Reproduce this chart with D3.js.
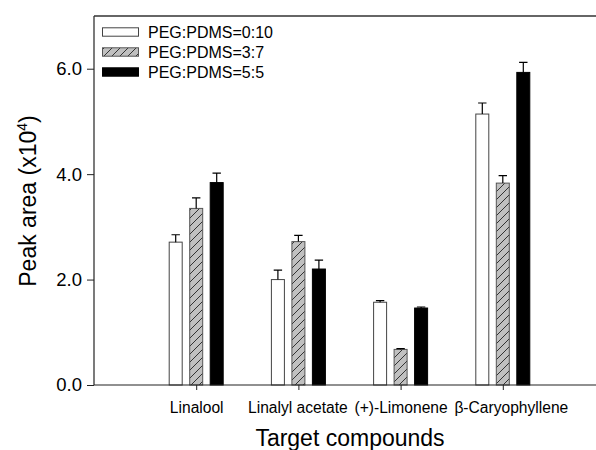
<!DOCTYPE html>
<html>
<head>
<meta charset="utf-8">
<script src="https://cdn.jsdelivr.net/npm/d3@7"></script>
<style>
  html, body { margin: 0; padding: 0; background: #fff; }
  svg { display: block; font-family: "Liberation Sans", Arial, sans-serif; }
</style>
</head>
<body>
<svg id="chart" width="596" height="450"></svg>
<script>
const categories = ["Linalool", "Linalyl acetate", "(+)-Limonene", "\u03B2-Caryophyllene"];
const seriesNames = ["PEG:PDMS=0:10", "PEG:PDMS=3:7", "PEG:PDMS=5:5"];
const valuesA = [2.71, 2.00, 1.57, 5.14];
const valuesB = [3.35, 2.72, 0.675, 3.83];
const valuesC = [3.84, 2.20, 1.46, 5.93];
const errorsA = [0.14, 0.18, 0.03, 0.21];
const errorsB = [0.20, 0.12, 0.015, 0.14];
const errorsC = [0.18, 0.17, 0.02, 0.19];
const yTicks = [0, 2, 4, 6];

const series = [
  { name: seriesNames[0], values: valuesA, errors: errorsA },
  { name: seriesNames[1], values: valuesB, errors: errorsB },
  { name: seriesNames[2], values: valuesC, errors: errorsC }
];

const svg = d3.select("#chart");
const mLeft = 94, mBottom = 385, mTop = 16, mRight = 596;

const y = d3.scaleLinear().domain([0, 7]).range([mBottom, mTop]);
const x = d3.scaleLinear().domain([0, 5]).range([mLeft, mLeft + 5 * 102.2]);
const sub = d3.scaleBand().domain(seriesNames).range([-30.75, 30.75])
  .paddingInner(0.366).paddingOuter(0.183);

// pattern
const defs = svg.append("defs");
const pat = defs.append("pattern").attr("id", "hatch")
  .attr("patternUnits", "userSpaceOnUse").attr("width", 8).attr("height", 8);
pat.append("rect").attr("width", 8).attr("height", 8).attr("fill", "#c0c0c0");
pat.append("path").attr("d", "M-2,2 L2,-2 M0,8 L8,0 M6,10 L10,6")
  .attr("stroke", "#222").attr("stroke-width", 0.9);

const fills = ["#ffffff", "url(#hatch)", "#000000"];
const strokes = ["#444", "#555", "#000"];

// bars
series.forEach((s, si) => {
  const g = svg.append("g");
  g.selectAll("rect").data(categories).join("rect")
    .attr("x", (c, i) => x(i + 1) + sub(s.name))
    .attr("y", (c, i) => y(s.values[i]))
    .attr("width", sub.bandwidth())
    .attr("height", (c, i) => y(0) - y(s.values[i]))
    .attr("fill", fills[si])
    .attr("stroke", strokes[si])
    .attr("stroke-width", 1);
  // error bars (upper only)
  g.selectAll("path.err").data(categories).join("path")
    .attr("class", "err")
    .attr("d", (c, i) => {
      const cx = x(i + 1) + sub(s.name) + sub.bandwidth() / 2;
      const y0 = y(s.values[i]);
      const y1 = y(s.values[i] + s.errors[i]);
      return `M${cx},${y0}V${y1}M${cx - 4.2},${y1}H${cx + 4.2}`;
    })
    .attr("stroke", "#000").attr("stroke-width", 1.2).attr("fill", "none");
});

// y axis
const yAxis = d3.axisLeft(y).tickValues(yTicks).tickFormat(d3.format(".1f"))
  .tickSize(7).tickPadding(5);
const yg = svg.append("g").attr("transform", `translate(${mLeft},0)`).call(yAxis);
yg.select(".domain").remove();
yg.selectAll(".tick line").attr("stroke", "#222");
yg.selectAll(".tick text").attr("font-size", "18.5px").attr("fill", "#000")
  .attr("font-family", "Liberation Sans, Arial, sans-serif");
svg.append("line").attr("x1", mLeft).attr("x2", mLeft).attr("y1", mTop).attr("y2", mBottom)
  .attr("stroke", "#222").attr("stroke-width", 1.2);

// x axis
const labelShift = [0, -1, 0, 8];
const xAxis = d3.axisBottom(x).tickValues(d3.range(1, categories.length + 1))
  .tickFormat(d => categories[d - 1]).tickSize(5).tickPadding(12);
const xg = svg.append("g").attr("transform", `translate(0,${mBottom})`).call(xAxis);
xg.select(".domain").remove();
xg.selectAll(".tick line").attr("stroke", "#222");
xg.selectAll(".tick text").attr("font-size", "15.6px").attr("fill", "#000")
  .attr("font-family", "Liberation Sans, Arial, sans-serif")
  .attr("dx", (d, i) => labelShift[i]);
svg.append("line").attr("x1", mLeft).attr("x2", mRight).attr("y1", mBottom).attr("y2", mBottom)
  .attr("stroke", "#222").attr("stroke-width", 1.2);
// top frame
svg.append("line").attr("x1", mLeft).attr("x2", mRight).attr("y1", mTop).attr("y2", mTop)
  .attr("stroke", "#333").attr("stroke-width", 1.5);

// axis titles
svg.append("text").attr("x", 350).attr("y", 446).attr("text-anchor", "middle")
  .attr("font-size", "23px").attr("fill", "#000").text("Target compounds");
const yt = svg.append("text")
  .attr("transform", "translate(36,201) rotate(-90)")
  .attr("text-anchor", "middle").attr("font-size", "23px").attr("fill", "#000");
yt.append("tspan").text("Peak area (x10");
yt.append("tspan").attr("font-size", "14px").attr("dy", "-9").text("4");
yt.append("tspan").attr("dy", "9").text(")");

// legend
const lg = svg.append("g");
series.forEach((s, si) => {
  const cy = 32 + si * 20;
  lg.append("rect").attr("x", 102.5).attr("y", cy - 4.2).attr("width", 36).attr("height", 8.4)
    .attr("fill", fills[si]).attr("stroke", strokes[si]).attr("stroke-width", 1);
  lg.append("text").attr("x", 148).attr("y", cy + 5.6).attr("font-size", "16px")
    .attr("fill", "#000").text(s.name);
});
</script>
</body>
</html>
